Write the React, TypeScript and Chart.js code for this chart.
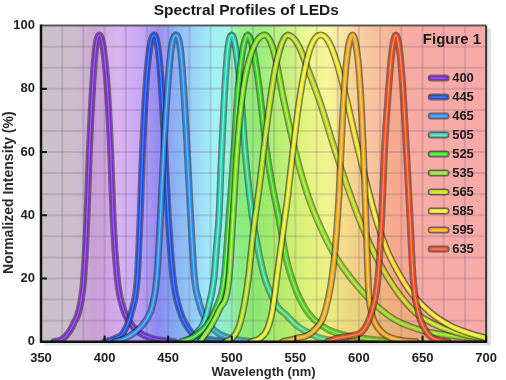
import React, { useEffect, useRef } from "react";
import { Chart, registerables } from "chart.js";

Chart.register(...registerables);

const FONT = "'Liberation Sans', Arial, Helvetica, sans-serif";

// Legend labels (nominal LED wavelengths)
const ledLabels = ["400", "445", "465", "505", "525", "535", "565", "585", "595", "635"];
const ledColors = ["#7a2cc8", "#1c4ce8", "#2a8cf0", "#22d0b0", "#34d424", "#7ade22", "#b4d81c", "#e6e022", "#f0a41a", "#f04a1c"];
const ledHighlights = ["#a060f0", "#5080ff", "#70b8ff", "#80f0e0", "#90f080", "#b8f870", "#e0f070", "#fff880", "#ffd070", "#ff9070"];

// Spectral curves: [wavelength nm, normalized intensity %]
const led400: [number, number][] = [[360, 0], [366, 0.6], [372, 3], [376, 6], [380, 10], [383.6, 20], [386.2, 40], [388, 60], [390.5, 80], [393, 93], [396, 97], [399, 93], [402.2, 80], [404.8, 60], [406.6, 40], [410, 20], [415, 10], [420, 6], [427, 3], [438, 1], [455, 0]];
const led445: [number, number][] = [[400, 0], [408, 1], [415, 3], [421.6, 10], [425.7, 20], [428, 40], [429.8, 60], [432.4, 80], [435.5, 93], [439, 97], [442, 93], [444.8, 80], [447.4, 60], [450, 40], [453.9, 20], [459, 10], [468, 3], [480, 1], [500, 0]];
const led465: [number, number][] = [[408, 0], [416, 1], [424, 3], [433, 7], [438, 12], [441, 20], [444, 40], [446.4, 60], [449.5, 80], [452.5, 93], [456, 97], [459.5, 93], [462.2, 80], [465, 60], [467.6, 40], [470.7, 20], [474, 13], [477, 9], [483, 5], [490, 2.5], [500, 1], [515, 0]];
const led505: [number, number][] = [[463, 0], [468, 1], [473, 3], [478, 6], [481, 10], [486, 20], [488, 30], [490, 40], [492, 60], [494.5, 80], [497, 93], [500, 97], [503, 93], [506.8, 80], [510.5, 60], [513, 50], [516, 40], [522.4, 26], [526, 20], [530, 15.8], [536, 11], [543, 8.4], [550, 5.5], [558.5, 3.2], [567, 1.5], [577, 0.5], [590, 0]];
const led525: [number, number][] = [[460, 0], [470, 1.5], [480, 5], [487, 10], [494, 20], [498, 40], [501.7, 60], [505, 80], [508.5, 92], [512.5, 97], [516.5, 93], [521, 82], [527.5, 60], [532, 49], [536.6, 40], [543, 26], [550.8, 16], [557, 11], [563.7, 7.4], [575, 4], [589.5, 2], [610, 0.7], [630, 0]];
const led535: [number, number][] = [[475, 0], [483.6, 5], [490, 10], [497.8, 20], [501, 40], [504, 60], [509, 80], [516, 92], [526, 97], [533, 92], [540, 78], [550, 60], [560, 46], [570, 36], [580, 28], [590, 22], [600, 17], [612, 12], [628, 7], [650, 3.5], [675, 1.8], [700, 0.8]];
const led565: [number, number][] = [[495, 0], [500, 1], [505, 4], [509, 10], [513, 20], [517, 35], [522, 50], [528, 70], [535, 88], [544, 97], [552, 94], [560, 86], [570, 75], [580, 62], [590, 50], [600, 39], [612, 28], [628, 17], [645, 9], [665, 4.5], [685, 2], [700, 1]];
const led585: [number, number][] = [[515, 0], [522, 1], [528, 4], [532, 10], [536, 22], [540, 34], [544, 46], [548, 60], [553, 76], [559, 89], [564, 95], [570, 97], [576, 95], [582, 89], [590, 77], [598, 63], [606, 50], [614, 38], [622, 29], [630, 22.5], [640, 16], [650, 11.5], [660, 8], [672, 5], [686, 2.8], [700, 1.2]];
const led595: [number, number][] = [[540, 0], [550, 1], [563.7, 3.2], [574, 10.5], [580.5, 26], [584.4, 47], [587, 70], [590, 88], [595, 97], [599, 90], [601.2, 79], [603.7, 58], [605.6, 37], [607.6, 16], [610, 9], [612.8, 5.8], [618, 3], [623, 1.6], [635, 0.3], [645, 0]];
const led635: [number, number][] = [[575, 0], [582, 1], [595, 2], [602.5, 3.2], [610.2, 9.7], [614.9, 20], [618, 40], [620, 60], [623.1, 79], [626, 92], [629, 97], [632, 92], [634.7, 79], [637.4, 60], [640, 40], [642.6, 20], [646.4, 9.7], [652.9, 3.2], [662, 0.5], [670, 0]];

const ledSeries = [led400, led445, led465, led505, led525, led535, led565, led585, led595, led635];

// Axis ticks
const xMin = 350, xMax = 700, xStep = 50;
const yMin = 0, yMax = 100, yStep = 20;
const chartTitle = "Spectral Profiles of LEDs";
const xTitle = "Wavelength (nm)";
const yTitle = "Normalized Intensity (%)";
const legendTitle = "Figure 1";

// Background spectrum stops [nm, color]
const spectrumStops: [number, string][] = [
  [350, "#c9c2c9"], [378, "#cdbccf"], [392, "#cfa8d6"], [410, "#d9b4ef"], [428, "#c8a8f8"],
  [442, "#9c90f6"], [456, "#94b4f6"], [470, "#9ad2f8"], [484, "#a2eefa"], [497, "#a4f4e0"],
  [506, "#9cf090"], [522, "#9cee84"], [540, "#c2f284"], [558, "#e8f892"], [575, "#f9f8a2"],
  [590, "#f9e0a4"], [606, "#f9c8a2"], [626, "#f8b296"], [645, "#f8aaa4"], [700, "#f8aaaa"],
];

function hexA(hex: string, a: number) {
  const n = parseInt(hex.slice(1), 16);
  return `rgba(${(n >> 16) & 255},${(n >> 8) & 255},${n & 255},${a})`;
}

const bgPlugin = {
  id: "bgPlugin",
  beforeDatasetsDraw(chart: any) {
    const { ctx, chartArea: a, scales } = chart;
    const xs = scales.x, ys = scales.y;
    ctx.save();
    const g = ctx.createLinearGradient(a.left, 0, a.right, 0);
    spectrumStops.forEach(([nm, c]) => g.addColorStop((nm - xMin) / (xMax - xMin), c));
    ctx.fillStyle = g;
    ctx.fillRect(a.left, a.top, a.right - a.left, a.bottom - a.top);
    // grid
    ctx.strokeStyle = "rgba(110,90,120,0.22)";
    ctx.lineWidth = 2;
    const nx = 21, ny = 15;
    for (let i = 1; i < nx; i++) {
      const px = xs.getPixelForValue(xMin + (i * (xMax - xMin)) / nx);
      ctx.beginPath(); ctx.moveTo(px, a.top); ctx.lineTo(px, a.bottom); ctx.stroke();
    }
    for (let j = 1; j < ny; j++) {
      const py = ys.getPixelForValue(yMin + (j * (yMax - yMin)) / ny);
      ctx.beginPath(); ctx.moveTo(a.left, py); ctx.lineTo(a.right, py); ctx.stroke();
    }
    ctx.restore();
  },
};

const framePlugin = {
  id: "framePlugin",
  afterDatasetsDraw(chart: any) {
    const { ctx, chartArea: a, scales } = chart;
    ctx.save();
    // right shadow
    ctx.fillStyle = "rgba(0,0,0,0.12)";
    ctx.fillRect(a.right + 1, a.top + 3, 4, a.bottom - a.top);
    ctx.fillStyle = "rgba(0,0,0,0.10)";
    ctx.fillRect(a.left + 3, a.bottom + 1, a.right - a.left, 3);
    // top + right
    ctx.strokeStyle = "#5a5a5a";
    ctx.lineWidth = 2;
    ctx.beginPath(); ctx.moveTo(a.left, a.top); ctx.lineTo(a.right, a.top); ctx.stroke();
    ctx.strokeStyle = "#333";
    ctx.beginPath(); ctx.moveTo(a.right, a.top); ctx.lineTo(a.right, a.bottom); ctx.stroke();
    // left + bottom
    ctx.strokeStyle = "#111";
    ctx.lineWidth = 2.5;
    ctx.beginPath(); ctx.moveTo(a.left, a.top - 1); ctx.lineTo(a.left, a.bottom); ctx.lineTo(a.right + 1, a.bottom); ctx.stroke();
    // inside ticks
    ctx.lineWidth = 2;
    for (let v = xMin + xStep; v <= xMax; v += xStep) {
      const px = scales.x.getPixelForValue(v);
      ctx.beginPath(); ctx.moveTo(px, a.bottom); ctx.lineTo(px, a.bottom - 6); ctx.stroke();
    }
    for (let v = yMin + yStep; v < yMax; v += yStep) {
      const py = scales.y.getPixelForValue(v);
      ctx.beginPath(); ctx.moveTo(a.left, py); ctx.lineTo(a.left + 6, py); ctx.stroke();
    }
    // y title
    ctx.translate(9, (a.top + a.bottom) / 2 + 9);
    ctx.rotate(-Math.PI / 2);
    ctx.fillStyle = "#2a2a2a";
    ctx.font = `bold 14px ${FONT}`;
    ctx.textAlign = "center";
    ctx.textBaseline = "middle";
    ctx.fillText(yTitle, 0, 0);
    ctx.restore();
  },
};

const legendPlugin = {
  id: "legendPlugin",
  afterDraw(chart: any) {
    const { ctx, chartArea: a } = chart;
    ctx.save();
    ctx.fillStyle = "#1a1a1a";
    ctx.font = `bold 15px ${FONT}`;
    ctx.textAlign = "right";
    ctx.textBaseline = "middle";
    ctx.fillText(legendTitle, a.right - 5, a.top + 14);
    const x0 = a.right - 55, x1 = x0 + 15;
    ledLabels.forEach((lab, i) => {
      const y = a.top + 52.5 + i * 19;
      ctx.lineCap = "round";
      ctx.strokeStyle = "rgba(40,40,40,0.6)";
      ctx.lineWidth = 7;
      ctx.beginPath(); ctx.moveTo(x0, y); ctx.lineTo(x1, y); ctx.stroke();
      ctx.strokeStyle = ledColors[i];
      ctx.lineWidth = 4;
      ctx.beginPath(); ctx.moveTo(x0, y); ctx.lineTo(x1, y); ctx.stroke();
      ctx.strokeStyle = ledHighlights[i];
      ctx.lineWidth = 1.2;
      ctx.beginPath(); ctx.moveTo(x0, y); ctx.lineTo(x1, y); ctx.stroke();
      ctx.fillStyle = "#1a1a1a";
      ctx.font = `bold 13px ${FONT}`;
      ctx.textAlign = "left";
      ctx.fillText(lab, x1 + 6, y + 0.5);
    });
    ctx.restore();
  },
};

export default function App() {
  const ref = useRef<HTMLCanvasElement | null>(null);
  useEffect(() => {
    document.body.style.margin = "0";
    const canvas = ref.current;
    if (!canvas) return;
    const datasets: any[] = [];
    ledSeries.forEach((series, i) => {
      const pts = series.map(([x, y]) => ({ x, y }));
      const base = { data: pts, pointRadius: 0, cubicInterpolationMode: "monotone", borderJoinStyle: "round", borderCapStyle: "round" };
      datasets.push({ ...base, label: ledLabels[i] + "-outline", borderColor: "rgba(35,35,35,0.55)", borderWidth: 7, fill: false, order: 100 - i * 3 });
      datasets.push({ ...base, label: ledLabels[i], borderColor: ledColors[i], borderWidth: 4, fill: "origin", backgroundColor: hexA(ledColors[i], 0.07), order: 99 - i * 3 });
      datasets.push({ ...base, label: ledLabels[i] + "-hl", borderColor: ledHighlights[i], borderWidth: 1.2, fill: false, order: 98 - i * 3 });
    });
    const chart = new Chart(canvas, {
      type: "line",
      data: { datasets },
      options: {
        animation: false,
        responsive: false,
        maintainAspectRatio: false,
        layout: { padding: { left: 0, right: 13.5, top: 0, bottom: 0 } },
        plugins: {
          legend: { display: false },
          tooltip: { enabled: false },
          title: {
            display: true,
            text: chartTitle,
            color: "#1a1a1a",
            font: { family: FONT, size: 15.5, weight: "bold" },
            padding: { top: 1, bottom: 6 },
          },
        },
        scales: {
          x: {
            type: "linear",
            min: xMin,
            max: xMax,
            ticks: { stepSize: xStep, color: "#1e1e1e", font: { family: FONT, size: 13, weight: "bold" }, padding: 9 },
            grid: { display: false, drawTicks: false },
            border: { display: false },
            title: { display: true, text: xTitle, color: "#2a2a2a", font: { family: FONT, size: 13, weight: "bold" }, padding: { top: 0, bottom: 0 } },
            afterFit: (s: any) => { s.height = 38.3; },
          },
          y: {
            type: "linear",
            min: yMin,
            max: yMax,
            ticks: { stepSize: yStep, color: "#1e1e1e", font: { family: FONT, size: 13, weight: "bold" }, padding: 6 },
            grid: { display: false, drawTicks: false },
            border: { display: false },
            afterFit: (s: any) => { s.width = 41; },
          },
        },
      } as any,
      plugins: [bgPlugin, framePlugin, legendPlugin],
    });
    return () => chart.destroy();
  }, []);
  return (
    <div style={{ width: 506, height: 380 }}>
      <canvas ref={ref} width={506} height={380} style={{ display: "block" }} />
    </div>
  );
}
